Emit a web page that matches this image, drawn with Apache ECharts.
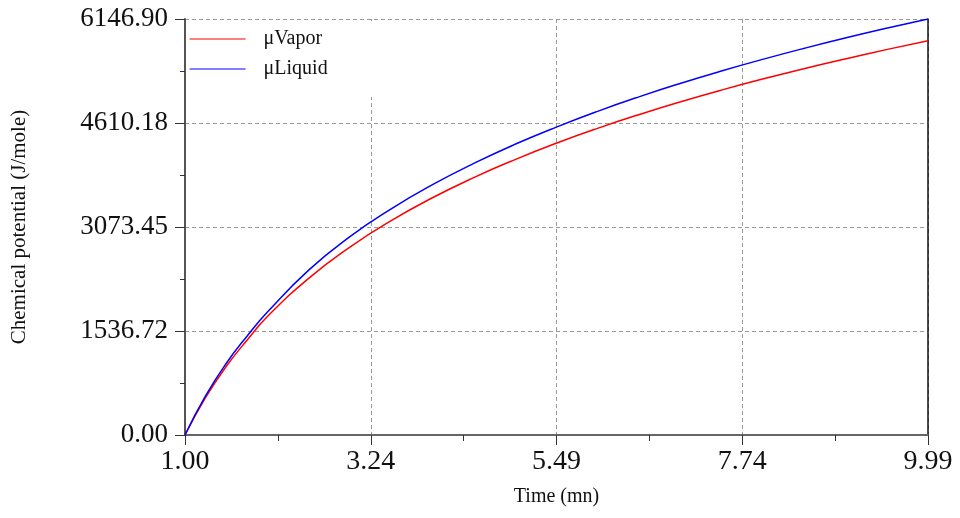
<!DOCTYPE html>
<html>
<head>
<meta charset="utf-8">
<script src="https://cdn.jsdelivr.net/npm/echarts@6/dist/echarts.min.js"></script>
<style>
  html, body { margin: 0; padding: 0; background: #fff; }
  #container { width: 960px; height: 518px; }
</style>
</head>
<body>
<div id="container"></div>
<script>
// values
const timeMn = [1.00, 1.25, 1.50, 1.75, 2.00, 2.50, 3.00, 3.50, 4.00, 4.50, 5.00,
                5.50, 6.00, 6.50, 7.00, 7.50, 8.00, 8.50, 9.00, 9.50, 9.99];
const muVapor = [0, 555, 1015, 1400, 1754, 2319, 2781, 3171, 3509, 3807, 4073,
                 4315, 4535, 4737, 4925, 5100, 5263, 5417, 5561, 5698, 5826];
const muLiquid = [0, 580, 1060, 1460, 1820, 2440, 2935, 3346, 3703, 4017, 4299,
                  4553, 4786, 5000, 5198, 5382, 5554, 5716, 5869, 6013, 6147];
const xTickLabels = ['1.00', '3.24', '5.49', '7.74', '9.99'];
const yTickLabels = ['0.00', '1536.72', '3073.45', '4610.18', '6146.90'];

const serif = 'Liberation Serif';
const pairs = (ys) => ys.map((v, i) => [timeMn[i], v]);

const myChart = echarts.init(document.getElementById('container'));

const option = {
    backgroundColor: '#fff',
    animation: false,
    grid: { left: 185, right: 32, top: 19, bottom: 83 },
    legend: {
        left: 186,
        top: 21,
        orient: 'vertical',
        backgroundColor: '#fff',
        padding: [8, 60, 18, 3],
        itemWidth: 56,
        itemHeight: 14,
        itemGap: 10,
        itemStyle: { opacity: 0 },
        lineStyle: { width: 1.2 },
        textStyle: { fontFamily: serif, fontSize: 20, color: '#111', padding: [0, 0, 0, 13] },
        data: ['\u03bcVapor', '\u03bcLiquid']
    },
    xAxis: [
        {
            type: 'value',
            min: 1,
            max: 9.99,
            interval: 2.2475,
            name: 'Time (mn)',
            nameLocation: 'middle',
            nameGap: 52,
            nameTextStyle: { fontFamily: serif, fontSize: 20, color: '#111' },
            axisLine: { lineStyle: { color: '#666', width: 2 } },
            axisTick: { length: 10, lineStyle: { color: '#333' } },
            minorTick: { show: true, splitNumber: 2, length: 6, lineStyle: { color: '#333' } },
            axisLabel: {
                margin: 13,
                fontFamily: serif,
                fontSize: 28,
                color: '#111',
                formatter: (v, i) => xTickLabels[i] !== undefined ? xTickLabels[i] : v.toFixed(2)
            },
            splitLine: { show: true, lineStyle: { color: '#999', type: [4, 3] } }
        },
        {
            type: 'value',
            position: 'top',
            min: 1,
            max: 9.99,
            axisLine: { show: true, lineStyle: { color: '#666', width: 2 } },
            axisTick: { show: false },
            axisLabel: { show: false },
            splitLine: { show: false }
        }
    ],
    yAxis: [
        {
            type: 'value',
            min: 0,
            max: 6146.9,
            interval: 1536.725,
            name: 'Chemical potential (J/mole)',
            nameLocation: 'middle',
            nameGap: 155,
            nameTextStyle: { fontFamily: serif, fontSize: 21, color: '#111' },
            axisLine: { show: true, lineStyle: { color: '#555', width: 2 } },
            axisTick: { show: true, length: 10, lineStyle: { color: '#333' } },
            minorTick: { show: true, splitNumber: 2, length: 5, lineStyle: { color: '#333' } },
            axisLabel: {
                margin: 17,
                fontFamily: serif,
                fontSize: 27,
                color: '#111',
                formatter: (v, i) => yTickLabels[i] !== undefined ? yTickLabels[i] : v.toFixed(2)
            },
            splitLine: { show: true, lineStyle: { color: '#999', type: [4, 3] } }
        },
        {
            type: 'value',
            position: 'right',
            min: 0,
            max: 6146.9,
            axisLine: { show: true, lineStyle: { color: '#111', width: 1.5 } },
            axisTick: { show: false },
            axisLabel: { show: false },
            splitLine: { show: false }
        }
    ],
    series: [
        {
            name: '\u03bcVapor',
            type: 'line',
            symbol: 'none',
            smooth: true,
            lineStyle: { color: '#ff0000', width: 1.5 },
            itemStyle: { color: '#ff0000' },
            data: pairs(muVapor)
        },
        {
            name: '\u03bcLiquid',
            type: 'line',
            symbol: 'none',
            smooth: true,
            lineStyle: { color: '#0000ff', width: 1.5 },
            itemStyle: { color: '#0000ff' },
            data: pairs(muLiquid)
        }
    ]
};

myChart.setOption(option);
</script>
</body>
</html>
